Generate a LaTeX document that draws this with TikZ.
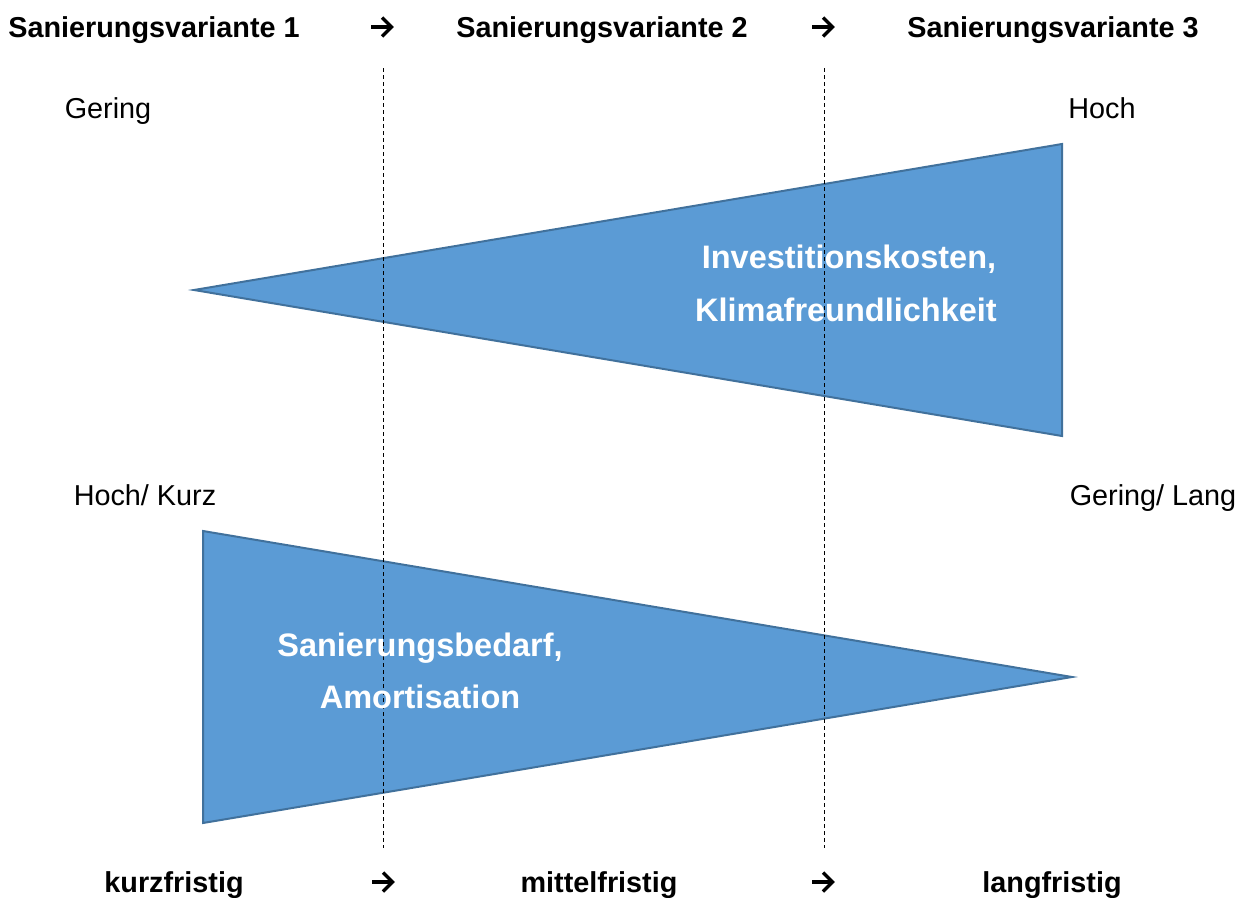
\documentclass[tikz,border=0pt]{standalone}
\usepackage{fontspec}
\setmainfont{Liberation Sans}
\definecolor{tri}{HTML}{5B9BD5}
\definecolor{triedge}{HTML}{41719C}
\begin{document}
\begin{tikzpicture}[x=1pt,y=-1pt,
  lbl/.style={anchor=base,inner sep=0pt,font=\fontsize{28.8}{34}\selectfont},
  hdr/.style={lbl,font=\fontsize{28.8}{34}\selectfont\bfseries},
  wtxt/.style={anchor=base,inner sep=0pt,text=white,font=\fontsize{32.5}{38}\selectfont\bfseries},
  wedge/.style={fill=tri,draw=triedge,line width=2pt,line join=miter},
  guide/.style={draw=black,line width=1pt,dash pattern=on 4pt off 3pt},
  harr/.pic={\draw[line width=3.4pt,line cap=butt] (-11,0) -- (9,0);
             \draw[line width=3.4pt,line join=miter] (0,-9.5) -- (9.5,0) -- (0,9.5);}]
\useasboundingbox (0,0) rectangle (1247,897);
% triangles
\coordinate (t1a) at (194,290);
\coordinate (t1b) at (1062,144);
\coordinate (t1c) at (1062,436);
\coordinate (t2a) at (203,531);
\coordinate (t2b) at (203,823);
\coordinate (t2c) at (1072,677);
\path[wedge] (t1a) -- (t1b) -- (t1c) -- cycle;
\path[wedge] (t2a) -- (t2c) -- (t2b) -- cycle;
% dashed guides
\coordinate (g1t) at (383,68);
\coordinate (g1b) at (383,848);
\coordinate (g2t) at (824,68);
\coordinate (g2b) at (824,848);
\draw[guide] (g1t) -- (g1b);
\draw[guide] (g2t) -- (g2b);
% headers
\node[hdr] (v1) at (154,37) {Sanierungsvariante 1};
\pic (a1) at (382,27) {harr};
\node[hdr] (v2) at (602,37) {Sanierungsvariante 2};
\pic (a2) at (823,27) {harr};
\node[hdr] (v3) at (1053,37) {Sanierungsvariante 3};
% side labels
\node[lbl] (l1) at (108,118) {Gering};
\node[lbl] (l2) at (1102,118) {Hoch};
\node[lbl] (l3) at (145,505) {Hoch/ Kurz};
\node[lbl] (l4) at (1153,505) {Gering/ Lang};
% white texts
\node[wtxt] (w1) at (849,268) {Investitionskosten,};
\node[wtxt] (w2) at (846,321) {Klimafreundlichkeit};
\node[wtxt] (w3) at (420,656) {Sanierungsbedarf,};
\node[wtxt] (w4) at (420,708) {Amortisation};
% bottom
\node[hdr] (b1) at (174,892) {kurzfristig};
\pic (a3) at (383,882) {harr};
\node[hdr] (b2) at (599,892) {mittelfristig};
\pic (a4) at (823,882) {harr};
\node[hdr] (b3) at (1052,892) {langfristig};
\end{tikzpicture}
\end{document}
